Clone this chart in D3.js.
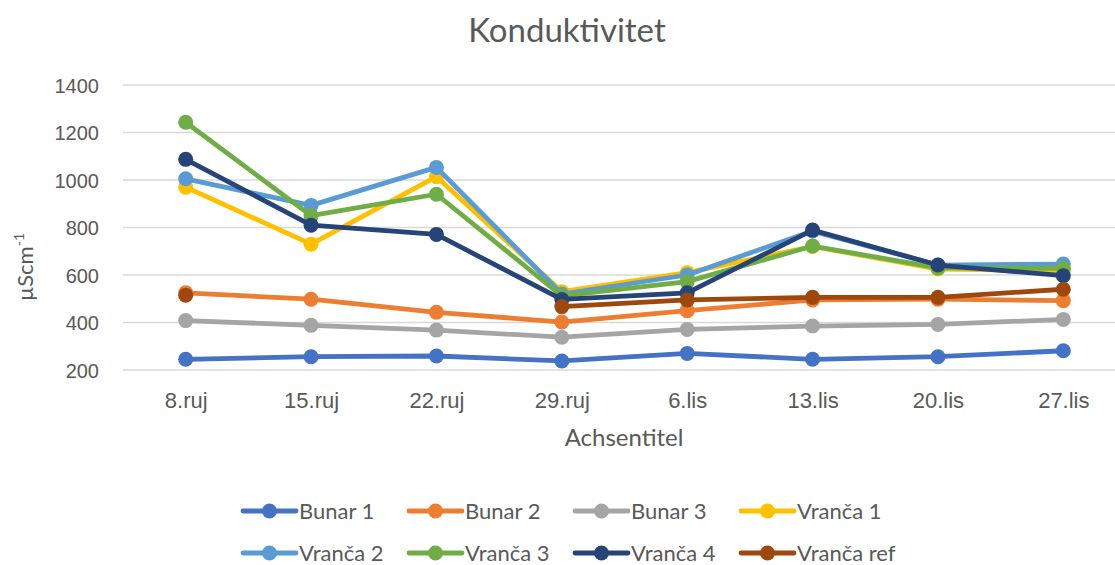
<!DOCTYPE html>
<html lang="en">
<head>
    <meta charset="UTF-8">
    <script src="https://d3js.org/d3.v7.min.js"></script>
    <title>Konduktivitet</title>
    <style>
        body { margin: 0; background: #fff; }
        svg { font-family: Lato, "Open Sans", sans-serif; }
        .grid line { stroke: #d9d9d9; stroke-width: 1.5px; }
        text { fill: #595959; }
    </style>
</head>
<body>
    <svg id="chart" width="1115" height="565"></svg>

    <script>
        // dates on the x axis
        const categories = ["8.ruj", "15.ruj", "22.ruj", "29.ruj", "6.lis", "13.lis", "20.lis", "27.lis"];
        const yTicks = [200, 400, 600, 800, 1000, 1200, 1400];

        const seriesNames = ["Bunar 1", "Bunar 2", "Bunar 3", "Vranča 1", "Vranča 2", "Vranča 3", "Vranča 4", "Vranča ref"];
        const bunar1 = [245, 256, 259, 238, 270, 245, 256, 281];
        const bunar2 = [525, 498, 443, 402, 450, 495, 498, 492];
        const bunar3 = [408, 388, 368, 338, 371, 385, 392, 413];
        const vranca1 = [970, 730, 1014, 530, 610, 720, 625, 618];
        const vranca2 = [1005, 893, 1053, 520, 600, 785, 642, 646];
        const vranca3 = [1243, 850, 940, 512, 572, 722, 630, 628];
        const vranca4 = [1087, 810, 771, 497, 525, 789, 642, 597];
        const vrancaRef = [515, null, null, 467, 495, 506, 506, 540];

        const colors = ["#4472c4", "#ed7d31", "#a5a5a5", "#ffc000", "#5b9bd5", "#70ad47", "#264478", "#9e480e"];

        const series = [bunar1, bunar2, bunar3, vranca1, vranca2, vranca3, vranca4, vrancaRef]
            .map((values, i) => ({ name: seriesNames[i], values: values, color: colors[i] }));

        const svg = d3.select("#chart");

        const x = d3.scalePoint()
            .domain(categories)
            .range([123, 1126])
            .padding(0.5);
        const y = d3.scaleLinear()
            .domain([200, 1400])
            .range([370, 85]);

        // gridlines
        svg.append("g").attr("class", "grid")
            .selectAll("line")
            .data(yTicks)
            .join("line")
            .attr("x1", 123).attr("x2", 1126)
            .attr("y1", d => y(d)).attr("y2", d => y(d));

        // y axis labels
        const yAxis = svg.append("g")
            .attr("transform", "translate(99,0)")
            .call(d3.axisLeft(y).tickValues(yTicks).tickFormat(d3.format("d")).tickSize(0).tickPadding(0));
        yAxis.select(".domain").remove();
        yAxis.selectAll("text").style("font-size", "20px").attr("dy", "0.35em");

        // x axis labels
        const xAxis = svg.append("g")
            .attr("transform", "translate(0,391)")
            .call(d3.axisBottom(x).tickSize(0).tickPadding(0));
        xAxis.select(".domain").remove();
        xAxis.selectAll("text").style("font-size", "22px").attr("dy", "0.75em");

        // lines + markers
        const line = d3.line()
            .defined(d => d != null)
            .x((d, i) => x(categories[i]))
            .y(d => y(d));

        const g = svg.append("g");
        series.forEach(s => {
            g.append("path")
                .attr("d", line(s.values))
                .attr("fill", "none")
                .attr("stroke", s.color)
                .attr("stroke-width", 4.8)
                .attr("stroke-linejoin", "round");
            g.selectAll(null)
                .data(s.values.map((v, i) => [categories[i], v]).filter(d => d[1] != null))
                .join("circle")
                .attr("cx", d => x(d[0]))
                .attr("cy", d => y(d[1]))
                .attr("r", 7.5)
                .attr("fill", s.color);
        });

        // titles
        svg.append("text")
            .attr("x", 567).attr("y", 42)
            .attr("text-anchor", "middle")
            .style("font-size", "33px")
            .text("Konduktivitet");

        svg.append("text")
            .attr("x", 624).attr("y", 446)
            .attr("text-anchor", "middle")
            .style("font-size", "24px")
            .text("Achsentitel");

        const yTitle = svg.append("text")
            .attr("transform", "translate(33,267) rotate(-90)")
            .attr("text-anchor", "middle")
            .style("font-size", "22px");
        yTitle.append("tspan").text("µScm");
        yTitle.append("tspan").attr("dy", -9).style("font-size", "14px").text("-1");

        // legend, 4 columns x 2 rows
        const legend = svg.append("g");
        const item = legend.selectAll("g")
            .data(series)
            .join("g")
            .attr("transform", (d, i) => `translate(${243 + (i % 4) * 166},${511 + Math.floor(i / 4) * 42})`);
        item.append("line")
            .attr("x1", 0).attr("x2", 53)
            .attr("stroke", d => d.color)
            .attr("stroke-width", 4.8)
            .attr("stroke-linecap", "round");
        item.append("circle")
            .attr("cx", 26.5).attr("r", 7.5)
            .attr("fill", d => d.color);
        item.append("text")
            .attr("x", 56).attr("dy", "0.35em")
            .style("font-size", "22px")
            .text(d => d.name);
    </script>
</body>
</html>
